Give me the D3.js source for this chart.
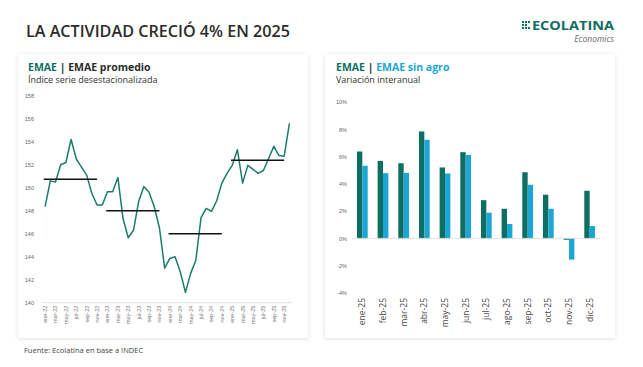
<!DOCTYPE html>
<html><head><meta charset="utf-8">
<script src="https://cdn.jsdelivr.net/npm/d3@7"></script>
<style>
html,body{margin:0;padding:0;background:#fff;}
svg{display:block;}
</style></head>
<body>
<svg id="c" width="643" height="367"></svg>
<script>
// ---------- DATA ----------
const months = [
 "ene-22","feb-22","mar-22","abr-22","may-22","jun-22","jul-22","ago-22","sep-22","oct-22","nov-22","dic-22",
 "ene-23","feb-23","mar-23","abr-23","may-23","jun-23","jul-23","ago-23","sep-23","oct-23","nov-23","dic-23",
 "ene-24","feb-24","mar-24","abr-24","may-24","jun-24","jul-24","ago-24","sep-24","oct-24","nov-24","dic-24",
 "ene-25","feb-25","mar-25","abr-25","may-25","jun-25","jul-25","ago-25","sep-25","oct-25","nov-25","dic-25"];
const emae = [
 148.35,150.6,150.5,152.0,152.2,154.2,152.5,151.8,151.1,149.5,148.5,148.5,
 149.65,149.65,150.9,147.3,145.65,146.3,148.8,150.1,149.6,148.35,146.5,143.0,
 143.85,144.0,142.7,140.9,142.55,143.7,147.4,148.2,147.95,148.85,150.4,151.25,
 151.95,153.3,150.4,151.95,151.6,151.25,151.5,152.55,153.6,152.8,152.75,155.6];
const years = ["22","23","24","25"];
const emaeAvg = [150.75, 148.0, 146.0, 152.4];
const lineTicks = [140,142,144,146,148,150,152,154,156,158];

const barCats = ["ene-25","feb-25","mar-25","abr-25","may-25","jun-25","jul-25","ago-25","sep-25","oct-25","nov-25","dic-25"];
const emaeYoY = [6.37,5.68,5.51,7.84,5.2,6.32,2.8,2.17,4.85,3.2,-0.1,3.49];
const sinAgroYoY = [5.32,4.78,4.8,7.23,4.76,6.12,1.88,1.05,3.93,2.17,-1.56,0.9];
const barTicks = [-4,-2,0,2,4,6,8,10];

// ---------- STYLE ----------
const teal = "#0f6e62", lineCol = "#1b7b6d", blue = "#1ba6d6";
const svg = d3.select("#c");
const defs = svg.append("defs");
const f = defs.append("filter").attr("id","sh").attr("x","-10%").attr("y","-10%").attr("width","120%").attr("height","120%");
f.append("feDropShadow").attr("dx",0).attr("dy",1).attr("stdDeviation",2.2).attr("flood-color","#000").attr("flood-opacity",0.12);

// title
svg.append("text").attr("x",26).attr("y",37).attr("font-family","Open Sans").attr("font-weight",600)
  .attr("font-size",16.5).attr("fill","#2b2b2b").attr("textLength",264).attr("lengthAdjust","spacingAndGlyphs")
  .text("LA ACTIVIDAD CRECIÓ 4% EN 2025");

// logo
const logo = svg.append("g");
[[0,0],[1,0],[2,0],[0,1],[1,1],[0,2],[1,2],[2,2]].forEach(([i,j])=>{
  logo.append("rect").attr("x",522+i*3).attr("y",21+j*3).attr("width",2).attr("height",2).attr("fill",teal);
});
svg.append("text").attr("x",614).attr("y",29.5).attr("text-anchor","end").attr("font-family","Open Sans")
  .attr("font-weight",700).attr("font-size",11.5).attr("fill",teal).attr("textLength",82).attr("lengthAdjust","spacingAndGlyphs").text("ECOLATINA");
svg.append("text").attr("x",614).attr("y",42).attr("text-anchor","end").attr("font-family","Open Sans")
  .attr("font-style","italic").attr("font-size",8.5).attr("fill","#666").text("Economics");

// panels
svg.append("rect").attr("x",18).attr("y",54).attr("width",290).attr("height",284).attr("fill","#fff").attr("filter","url(#sh)");
svg.append("rect").attr("x",325).attr("y",54).attr("width",290).attr("height",284).attr("fill","#fff").attr("filter","url(#sh)");

// footer
svg.append("text").attr("x",24).attr("y",353).attr("font-family","Open Sans").attr("font-size",7.5).attr("fill","#444")
  .text("Fuente: Ecolatina en base a INDEC");

// ---------- LEFT CHART ----------
const t1 = svg.append("text").attr("x",28).attr("y",71).attr("font-family","Open Sans").attr("font-weight",700).attr("font-size",10.5);
t1.append("tspan").attr("fill",teal).text("EMAE");
t1.append("tspan").attr("fill","#2b2b2b").text(" | EMAE promedio");
svg.append("text").attr("x",28).attr("y",83).attr("font-family","Open Sans").attr("font-size",9).attr("fill","#333")
  .text("Índice serie desestacionalizada");

const x1 = d3.scaleBand().domain(months).range([42.5,292]);
const y1 = d3.scaleLinear().domain([140,158]).range([302.7,95.8]);

svg.append("line").attr("x1",42).attr("x2",292).attr("y1",y1(140)).attr("y2",y1(140)).attr("stroke","#d9d9d9").attr("stroke-width",0.8);

const ya1 = svg.append("g").attr("transform","translate(34,0)")
  .call(d3.axisLeft(y1).tickValues(lineTicks).tickSize(0).tickPadding(0));
ya1.select(".domain").remove();
ya1.selectAll("text").attr("font-family","Liberation Sans").attr("font-size",5.5).attr("fill","#666");

const xa1 = svg.append("g").attr("transform",`translate(0,${y1(140)})`)
  .call(d3.axisBottom(x1).tickValues(months.filter((d,i)=>i%2===0)).tickSize(0).tickPadding(0));
xa1.select(".domain").remove();
xa1.selectAll("text").attr("font-family","Liberation Sans").attr("font-size",5.5).attr("fill","#777")
  .attr("text-anchor","end").attr("dy","0.35em").attr("transform","translate(0,3) rotate(-90)").attr("x",0).attr("y",0);

const line = d3.line().x((d,i)=>x1(months[i])+x1.bandwidth()/2).y(d=>y1(d));
svg.append("path").datum(emae).attr("d",line).attr("fill","none").attr("stroke",lineCol).attr("stroke-width",1.5).attr("stroke-linejoin","round");

years.forEach((yr,i)=>{
  const xs = x1("ene-"+yr)+x1.bandwidth()/2 - 1.3, xe = x1("nov-"+yr)+x1.bandwidth()/2;
  svg.append("line").attr("x1",xs).attr("x2",xe).attr("y1",y1(emaeAvg[i])).attr("y2",y1(emaeAvg[i]))
    .attr("stroke","#111").attr("stroke-width",1.5);
});

// ---------- RIGHT CHART ----------
const t2 = svg.append("text").attr("x",336).attr("y",71).attr("font-family","Open Sans").attr("font-weight",700).attr("font-size",10.5);
t2.append("tspan").attr("fill",teal).text("EMAE");
t2.append("tspan").attr("fill","#2b2b2b").text(" | ");
t2.append("tspan").attr("fill",blue).text("EMAE sin agro");
svg.append("text").attr("x",336).attr("y",83).attr("font-family","Open Sans").attr("font-size",9).attr("fill","#333")
  .text("Variación interanual");

const x2 = d3.scaleBand().domain(barCats).range([352,600]).paddingInner(0.48).paddingOuter(0.24);
const xs2 = d3.scaleBand().domain(["a","b"]).range([0,x2.bandwidth()]);
const y2 = d3.scaleLinear().domain([-4,10]).range([292.9,102]);

const ya2 = svg.append("g").attr("transform","translate(347,0)")
  .call(d3.axisLeft(y2).tickValues(barTicks).tickFormat(d=>d+"%").tickSize(0).tickPadding(0));
ya2.select(".domain").remove();
ya2.selectAll("text").attr("font-family","Liberation Sans").attr("font-size",5.5).attr("fill","#666");

const g2 = svg.append("g");
g2.selectAll(".b1").data(emaeYoY).join("rect")
  .attr("x",(d,i)=>x2(barCats[i])+xs2("a")).attr("width",xs2.bandwidth())
  .attr("y",d=>y2(Math.max(0,d))).attr("height",d=>Math.abs(y2(d)-y2(0))).attr("fill",teal);
g2.selectAll(".b2").data(sinAgroYoY).join("rect")
  .attr("x",(d,i)=>x2(barCats[i])+xs2("b")).attr("width",xs2.bandwidth())
  .attr("y",d=>y2(Math.max(0,d))).attr("height",d=>Math.abs(y2(d)-y2(0))).attr("fill",blue);

svg.append("line").attr("x1",352).attr("x2",600).attr("y1",y2(0)).attr("y2",y2(0)).attr("stroke","#d9d9d9").attr("stroke-width",0.8);

const xa2 = svg.append("g").attr("transform","translate(0,298)")
  .call(d3.axisBottom(x2).tickSize(0).tickPadding(0));
xa2.select(".domain").remove();
xa2.selectAll("text").attr("font-family","Open Sans").attr("font-size",8.5).attr("fill","#444")
  .attr("text-anchor","end").attr("dy","0.35em").attr("transform","rotate(-90)").attr("x",0).attr("y",0);
</script>
</body></html>
